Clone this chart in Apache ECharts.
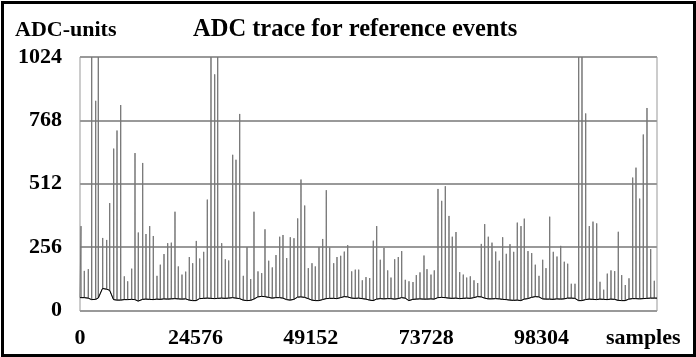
<!DOCTYPE html>
<html>
<head>
<meta charset="utf-8">
<script src="https://cdn.jsdelivr.net/npm/echarts@6/dist/echarts.min.js"></script>
<style>
  html, body { margin: 0; padding: 0; background: #fff; }
  #chart { width: 696px; height: 357px; }
</style>
</head>
<body>
<div id="chart"></div>
<script>
// sample position of each event pulse
const spikePos = [
  213, 916, 1768, 2492, 3343, 3897, 4834, 5686, 6325, 7177,
  7880, 8668, 9434, 10158, 11010, 11713, 12416, 13353, 14055, 14843,
  15610, 16398, 17101, 17889, 18677, 19443, 20231, 20934, 21722, 22510,
  23277, 24001, 24767, 25491, 26343, 27110, 27898, 28686, 29325, 30177,
  30943, 31667, 32519, 33222, 34010, 34777, 35565, 36353, 37055, 37907,
  38695, 39398, 40186, 40952, 41740, 42528, 43231, 44019, 44785, 45573,
  46361, 47064, 47852, 48619, 49407, 50110, 50898, 51685, 52452, 53176,
  54028, 54731, 55519, 56285, 57009, 57861, 58628, 59352, 60119, 60907,
  61695, 62461, 63185, 63952, 64740, 65528, 66230, 67018, 67785, 68509,
  69276, 70064, 70916, 71619, 72406, 73258, 73897, 74749, 75452, 76240,
  77028, 77795, 78582, 79285, 80073, 80861, 81627, 82351, 83118, 83906,
  84694, 85460, 86184, 86951, 87739, 88527, 89293, 90017, 90784, 91572,
  92360, 93127, 93915, 94617, 95405, 96193, 96960, 97749, 98536, 99239,
  100027, 100794, 101582, 102370, 103136, 103860, 104627, 105415, 106203, 106906,
  107694, 108460, 109248, 110036, 110739, 111527, 112293, 113081, 113869, 114636,
  115360, 116127, 116915, 117703, 118406, 119193, 119960, 120748, 121536, 122302
];
// peak ADC value of each pulse (1024 = saturated)
const spikePeak = [
  341, 160, 167, 1024, 847, 1024, 293, 285, 434, 654,
  727, 830, 138, 118, 169, 636, 315, 596, 309, 341,
  301, 140, 185, 228, 272, 274, 399, 178, 145, 157,
  216, 191, 281, 210, 237, 448, 1024, 954, 1024, 272,
  207, 202, 629, 609, 794, 140, 256, 127, 399, 158,
  151, 328, 201, 174, 224, 298, 305, 212, 296, 292,
  372, 529, 424, 171, 191, 178, 256, 289, 486, 254,
  191, 216, 221, 238, 264, 158, 165, 165, 122, 135,
  131, 282, 341, 205, 253, 162, 133, 207, 216, 240,
  124, 118, 115, 143, 154, 222, 167, 145, 162, 491,
  443, 502, 382, 298, 317, 155, 145, 133, 138, 122,
  111, 269, 349, 298, 274, 238, 201, 296, 229, 268,
  237, 355, 341, 371, 240, 232, 185, 140, 205, 171,
  379, 237, 218, 261, 197, 189, 108, 108, 1024, 1024,
  796, 341, 359, 352, 116, 84, 149, 162, 159, 318,
  143, 103, 130, 537, 577, 452, 711, 818, 248, 120
];
// baseline level at the foot of each pulse
const spikeBase = [
  52, 52, 50, 44, 45, 50, 89, 86, 82, 44,
  42, 42, 44, 44, 45, 44, 38, 45, 46, 45,
  44, 46, 45, 47, 46, 47, 48, 47, 46, 47,
  42, 40, 40, 48, 49, 50, 49, 48, 49, 50,
  49, 50, 52, 50, 48, 42, 40, 41, 46, 55,
  57, 56, 53, 50, 52, 52, 50, 44, 42, 45,
  54, 55, 53, 48, 42, 40, 40, 44, 48, 49,
  49, 48, 52, 56, 55, 50, 49, 50, 48, 46,
  42, 40, 46, 48, 47, 48, 48, 46, 48, 52,
  50, 40, 45, 46, 47, 46, 46, 47, 46, 52,
  53, 52, 50, 49, 50, 48, 49, 50, 49, 52,
  56, 55, 50, 47, 47, 48, 47, 45, 44, 42,
  41, 42, 40, 46, 48, 53, 56, 55, 47, 46,
  46, 45, 47, 46, 47, 50, 50, 49, 40, 40,
  44, 46, 45, 44, 46, 45, 44, 46, 45, 41,
  40, 40, 46, 48, 48, 47, 48, 49, 50, 50
];
const xTicks = [0, 24576, 49152, 73728, 98304];
const yTicks = [0, 256, 512, 768, 1024];
const xMax = 122880;

const FONT = '"Liberation Serif", "Times New Roman", serif';

var trace = [[0, spikeBase[0]]];
var baseline = [[0, spikeBase[0]]];
spikePos.forEach(function (p, i) {
  trace.push([p - 40, spikeBase[i]], [p, spikePeak[i]], [p + 40, spikeBase[i]]);
  baseline.push([p - 40, spikeBase[i]], [p + 40, spikeBase[i]]);
});
trace.push([xMax, spikeBase[spikeBase.length - 1]]);
baseline.push([xMax, spikeBase[spikeBase.length - 1]]);

var myChart = echarts.init(document.getElementById('chart'), null, { renderer: 'canvas' });
var option = {
  animation: false,
  grid: {
    left: 80, right: 39, top: 57, bottom: 46.5,
    show: true, borderColor: '#999', borderWidth: 1
  },
  xAxis: {
    type: 'value',
    min: 0, max: xMax, interval: xTicks[1] - xTicks[0],
    axisLine: { show: true, lineStyle: { color: '#999', width: 1 } },
    axisTick: { show: false },
    splitLine: { show: false },
    axisLabel: {
      margin: 17,
      fontFamily: FONT, fontWeight: 'bold', fontSize: 22, color: '#000',
      formatter: function (v) { return xTicks.indexOf(v) >= 0 ? String(v) : ''; }
    }
  },
  yAxis: {
    type: 'value',
    min: 0, max: yTicks[yTicks.length - 1], interval: yTicks[1] - yTicks[0],
    axisLine: { show: false },
    axisTick: { show: false },
    splitLine: { show: true, lineStyle: { color: '#999', width: 2 } },
    axisLabel: {
      margin: 18,
      fontFamily: FONT, fontWeight: 'bold', fontSize: 22, color: '#000',
      formatter: function (v) { return String(v); }
    }
  },
  series: [
    {
      type: 'line', data: trace, showSymbol: false, silent: true,
      lineStyle: { color: '#777', width: 1 }
    },
    {
      type: 'line', data: baseline, showSymbol: false, silent: true,
      lineStyle: { color: '#000', width: 1 }
    }
  ],
  graphic: [
    {
      type: 'text', left: 15, top: 19,
      style: { text: 'ADC-units', font: 'bold 22px ' + FONT, fill: '#000' }
    },
    {
      type: 'text', left: 193, top: 17,
      style: { text: 'ADC trace for reference events', font: 'bold 24.5px ' + FONT, fill: '#000' }
    },
    {
      type: 'text', left: 606, top: 327,
      style: { text: 'samples', font: 'bold 22px ' + FONT, fill: '#000' }
    },
    {
      type: 'rect', left: 0, top: 0, silent: true,
      shape: { x: 1.5, y: 1.5, width: 692, height: 353 },
      style: { fill: 'none', stroke: '#000', lineWidth: 3 }
    }
  ]
};
option && myChart.setOption(option);
</script>
</body>
</html>
